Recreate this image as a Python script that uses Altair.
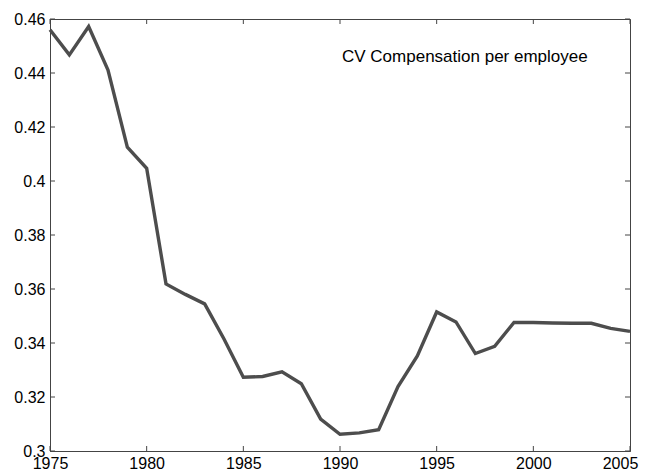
import altair as alt
import pandas as pd

years = list(range(1975, 2006))
cv_values = [0.456, 0.4467, 0.4572, 0.4411, 0.4125, 0.4047, 0.3619, 0.358, 0.3545,
             0.3415, 0.3273, 0.3276, 0.3293, 0.3249, 0.3118, 0.3062, 0.3067, 0.3079,
             0.3239, 0.3352, 0.3515, 0.3478, 0.3361, 0.3388, 0.3476, 0.3476, 0.3474,
             0.3473, 0.3473, 0.3454, 0.3443]
x_ticks = [1975, 1980, 1985, 1990, 1995, 2000, 2005]
y_ticks = [0.3, 0.32, 0.34, 0.36, 0.38, 0.4, 0.42, 0.44, 0.46]
label_text = "CV Compensation per employee"

W, H = 580, 432
FONT = "Liberation Sans"
AX = "#444444"

df = pd.DataFrame({"year": years, "cv": cv_values})
xt = pd.DataFrame({"t": x_ticks})
yt = pd.DataFrame({"t": y_ticks})

xscale = alt.Scale(domain=[1975, 2005], nice=False, zero=False)
yscale = alt.Scale(domain=[0.3, 0.46], nice=False, zero=False)

line = alt.Chart(df).mark_line(color="#4d4d4d", strokeWidth=3.4).encode(
    x=alt.X("year:Q", scale=xscale, title=None,
            axis=alt.Axis(values=x_ticks, format="d", ticks=False, tickSize=0,
                          labelPadding=4, labelFlush=False, grid=False,
                          labelOffset={"condition": {"test": "datum.value == 2005", "value": -10}, "value": 0},
                          domainColor=AX, labelFontSize=16, labelFont=FONT,
                          labelColor="black", labelOverlap=False)),
    y=alt.Y("cv:Q", scale=yscale, title=None,
            axis=alt.Axis(values=y_ticks, format="~g", ticks=False, tickSize=0,
                          labelPadding=5, grid=False, domainColor=AX,
                          labelFontSize=16, labelFont=FONT, labelColor="black",
                          labelOverlap=False, labelFlush=False)),
)

tick_len = 5
xb = alt.Chart(xt).mark_rule(color=AX, strokeWidth=1).encode(
    x=alt.X("t:Q", scale=xscale), y=alt.value(H), y2=alt.value(H - tick_len))
xtop = alt.Chart(xt).mark_rule(color=AX, strokeWidth=1).encode(
    x=alt.X("t:Q", scale=xscale), y=alt.value(0), y2=alt.value(tick_len))
yl = alt.Chart(yt).mark_rule(color=AX, strokeWidth=1).encode(
    y=alt.Y("t:Q", scale=yscale), x=alt.value(0), x2=alt.value(tick_len))
yr = alt.Chart(yt).mark_rule(color=AX, strokeWidth=1).encode(
    y=alt.Y("t:Q", scale=yscale), x=alt.value(W), x2=alt.value(W - tick_len))

txt = alt.Chart(pd.DataFrame({"label": [label_text]})).mark_text(
    align="left", baseline="alphabetic", fontSize=17, font=FONT, color="black"
).encode(text="label:N", x=alt.value(292), y=alt.value(43))

chart = alt.layer(line, xb, xtop, yl, yr, txt).properties(
    width=W, height=H,
    autosize=alt.AutoSizeParams(type="none"),
    padding={"left": 42, "top": 11, "right": 9, "bottom": 30},
    background="white",
).configure_view(stroke=AX, strokeWidth=1)

chart.save("out.html", embed_options={"renderer": "svg", "actions": False})
